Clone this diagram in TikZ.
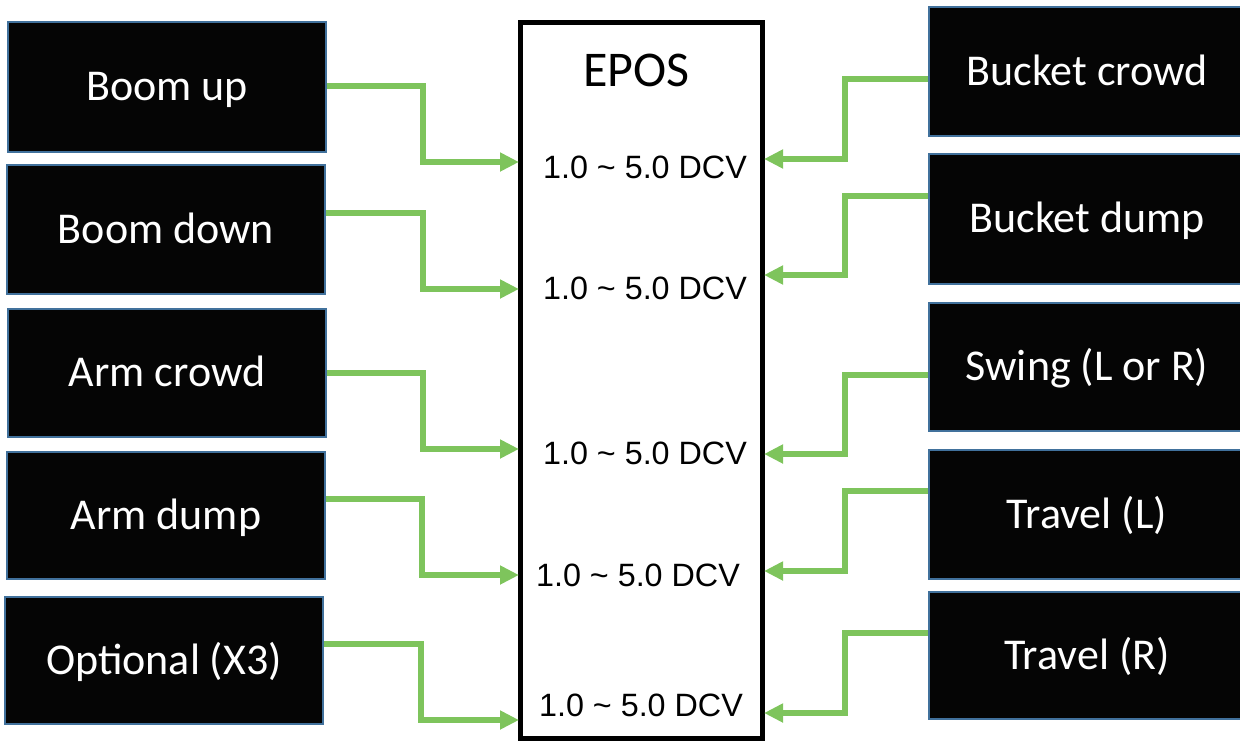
\documentclass[tikz,border=0pt]{standalone}
\usepackage{fontspec}
\setmainfont{Carlito}
\newfontfamily\arialfont{Liberation Sans}
\usetikzlibrary{arrows.meta}
\definecolor{boxblue}{RGB}{65,113,156}
\definecolor{arrgreen}{RGB}{126,196,92}
\begin{document}
\begin{tikzpicture}[x=1pt,y=-1pt,
  sigbox/.style={draw=boxblue, line width=2.5pt, fill=black!98, text=white,
    font=\fontsize{44}{50}\selectfont, text height=27.5pt, text depth=0pt,
    inner sep=0pt, minimum width=318pt},
  eposbox/.style={draw=black, line width=5pt, fill=white, inner sep=0pt,
    minimum width=242pt, minimum height=716pt},
  dcv/.style={font=\arialfont\fontsize{32.3}{36}\selectfont, text height=23pt,
    text depth=0pt, inner sep=0pt},
  sig/.style={draw=arrgreen, line width=5.5pt, -{Triangle[length=19pt,width=18pt]}}
]
\useasboundingbox (0,0) rectangle (1240,742);

% central box
\node[eposbox] (E) at (641,380) {};
\node[font=\fontsize{50}{60}\selectfont, text height=31.6pt, text depth=0pt, inner sep=0pt]
  (title) at (636.5,70.5) {EPOS};
\node[dcv] (d1) at (645,167) {1.0 \textasciitilde{} 5.0 DCV};
\node[dcv] (d2) at (645,288) {1.0 \textasciitilde{} 5.0 DCV};
\node[dcv] (d3) at (645,453) {1.0 \textasciitilde{} 5.0 DCV};
\node[dcv] (d4) at (638,575) {1.0 \textasciitilde{} 5.0 DCV};
\node[dcv] (d5) at (641,705) {1.0 \textasciitilde{} 5.0 DCV};

% left boxes
\node[sigbox, minimum height=130pt] (L1) at (167,87)    {Boom up};
\node[sigbox, minimum height=129pt] (L2) at (166,229.5) {Boom down};
\node[sigbox, minimum height=128pt] (L3) at (167,373)   {Arm crowd};
\node[sigbox, minimum height=127pt] (L4) at (166,515.5) {Arm dump};
\node[sigbox, minimum height=127pt] (L5) at (164,660.5) {Optional (X3)};

% right boxes
\node[sigbox, minimum width=316pt, minimum height=129pt] (R1) at (1087,71.5) {Bucket crowd};
\node[sigbox, minimum width=316pt, minimum height=130pt] (R2) at (1087,219)  {Bucket dump};
\node[sigbox, minimum width=316pt, minimum height=128pt] (R3) at (1087,367)  {Swing (L or R)};
\node[sigbox, minimum width=316pt, minimum height=129pt] (R4) at (1087,514.5) {Travel (L)};
\node[sigbox, minimum width=316pt, minimum height=127pt] (R5) at (1087,655.5) {Travel (R)};

% arrow targets on the EPOS box
\coordinate (t1) at (519,162);
\coordinate (t2) at (519,289);
\coordinate (t3) at (519,449);
\coordinate (t4) at (519,575);
\coordinate (t5) at (519,720);
\coordinate (u1) at (764,159);
\coordinate (u2) at (764,275);
\coordinate (u3) at (764,454);
\coordinate (u4) at (764,571);
\coordinate (u5) at (764,713);

% left connectors
\draw[sig] ([yshift=1pt]L1.east)    -| ([xshift=-96pt]t1) -- (t1);
\draw[sig] ([yshift=16.5pt]L2.east) -| ([xshift=-96pt]t2) -- (t2);
\draw[sig] (L3.east)                -| ([xshift=-96pt]t3) -- (t3);
\draw[sig] ([yshift=16.5pt]L4.east) -| ([xshift=-97pt]t4) -- (t4);
\draw[sig] ([yshift=16.5pt]L5.east) -| ([xshift=-98pt]t5) -- (t5);

% right connectors
\draw[sig] ([yshift=-7.5pt]R1.west) -| ([xshift=81pt]u1) -- (u1);
\draw[sig] ([yshift=23pt]R2.west)   -| ([xshift=81pt]u2) -- (u2);
\draw[sig] ([yshift=-8pt]R3.west)   -| ([xshift=81pt]u3) -- (u3);
\draw[sig] ([yshift=23.5pt]R4.west) -| ([xshift=81pt]u4) -- (u4);
\draw[sig] ([yshift=22.5pt]R5.west) -| ([xshift=81pt]u5) -- (u5);
\end{tikzpicture}
\end{document}
